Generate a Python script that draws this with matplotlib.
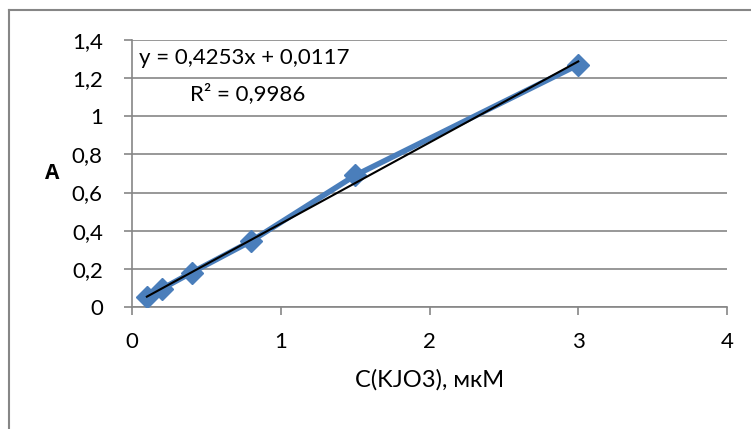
import matplotlib
matplotlib.use("Agg")
import matplotlib.pyplot as plt
from matplotlib.lines import Line2D

plt.rcParams['font.family'] = ['Lato', 'Open Sans', 'DejaVu Sans']

conc = [0.1, 0.2, 0.4, 0.8, 1.5, 3.0]
absorb = [0.05, 0.095, 0.18, 0.345, 0.69, 1.27]
slope = 0.4253
intercept = 0.0117
xticks = [0, 1, 2, 3, 4]
yticks = [0, 0.2, 0.4, 0.6, 0.8, 1.0, 1.2, 1.4]
ytick_labels = ['0', '0,2', '0,4', '0,6', '0,8', '1', '1,2', '1,4']

W, H = 751, 429
fig = plt.figure(figsize=(W / 100, H / 100), dpi=100)
ax = fig.add_axes([132 / W, 122 / H, 595 / W, 267 / H])

grid_c = '#868686'
ax.plot(conc, absorb, color='#4A7EBB', lw=4, marker='D', ms=11,
        markeredgecolor='#4A7EBB', zorder=3)
fit_x = [conc[0], conc[-1]]
fit_y = [slope * v + intercept for v in fit_x]
ax.plot(fit_x, fit_y, color='black', lw=1.5, zorder=4)

ax.set_xlim(0, 4)
ax.set_ylim(0, 1.4)
ax.set_xticks(xticks)
ax.set_xticklabels([str(v) for v in xticks])
ax.set_yticks(yticks)
ax.set_yticklabels(ytick_labels)
ax.yaxis.grid(True, color=grid_c, lw=1.2)
ax.set_axisbelow(True)
for s in ['top', 'right']:
    ax.spines[s].set_visible(False)
for s in ['left', 'bottom']:
    ax.spines[s].set_color(grid_c)
    ax.spines[s].set_linewidth(1.2)
ax.tick_params(axis='both', direction='out', color=grid_c, width=1.2,
               length=6, labelsize=16, labelcolor='black')
ax.tick_params(axis='x', pad=12)
ax.tick_params(axis='y', pad=15)

ax.set_xlabel('C(KJO3), мкМ', fontsize=17, labelpad=12)
ax.set_ylabel('A', fontsize=15, fontweight='bold', family='Open Sans',
              rotation=0, labelpad=14, va='center')

ax.text(0.05, 1.305, 'y = 0,4253x + 0,0117', fontsize=16, va='center')
ax.text(0.39, 1.12, 'R² = 0,9986', fontsize=16, va='center')

# outer chart frame (only top and left edges visible)
fig.add_artist(Line2D([9 / W, 1], [1 - 10 / H, 1 - 10 / H], color=grid_c, lw=1.5))
fig.add_artist(Line2D([9 / W, 9 / W], [0, 1 - 10 / H], color=grid_c, lw=1.5))

fig.savefig('out.png', dpi=100)
